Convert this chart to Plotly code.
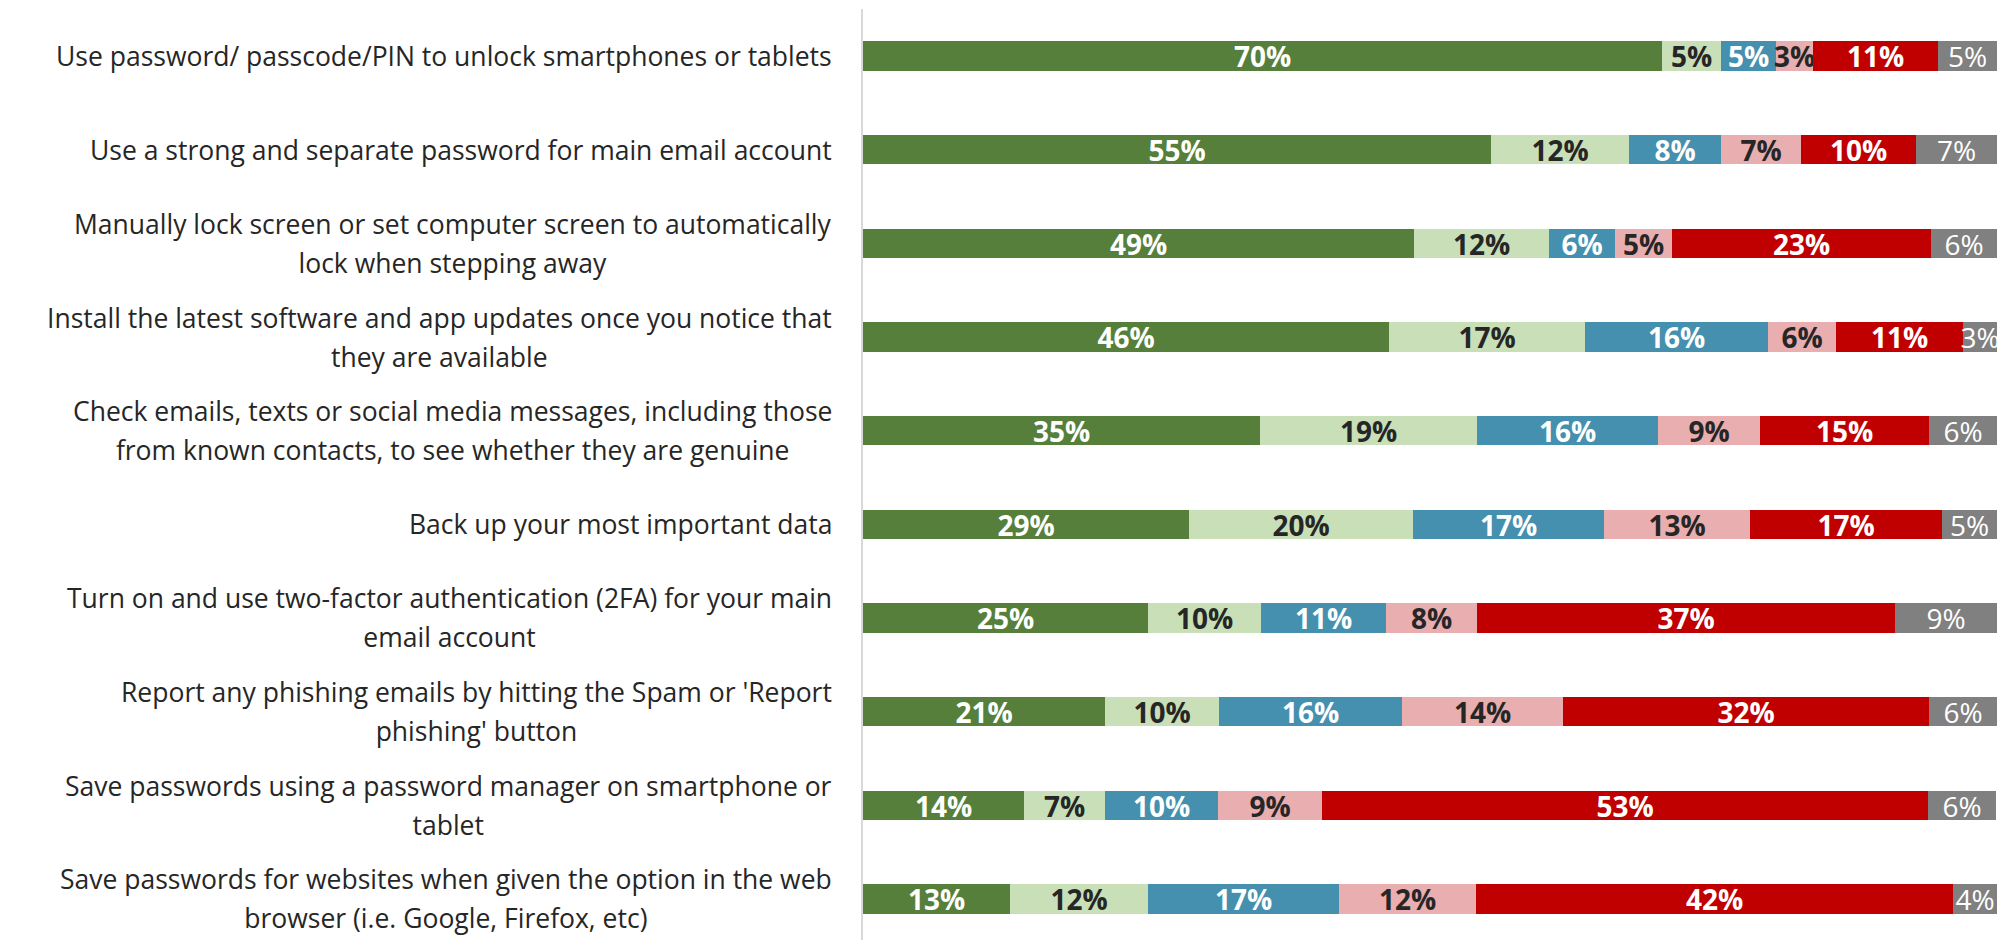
import plotly.graph_objects as go

labels = [
    "Use password/ passcode/PIN to unlock smartphones or tablets",
    "Use a strong and separate password for main email account",
    "Manually lock screen or set computer screen to automatically<br>lock when stepping away",
    "Install the latest software and app updates once you notice that<br>they are available",
    "Check emails, texts or social media messages, including those<br>from known contacts, to see whether they are genuine",
    "Back up your most important data",
    "Turn on and use two-factor authentication (2FA) for your main<br>email account",
    "Report any phishing emails by hitting the Spam or 'Report<br>phishing' button",
    "Save passwords using a password manager on smartphone or<br>tablet",
    "Save passwords for websites when given the option in the web<br>browser (i.e. Google, Firefox, etc)",
]

seg1 = [70.4, 55.4, 48.6, 46.4, 35.0, 28.7, 25.1, 21.3, 14.2, 13.0]
seg2 = [5.2, 12.1, 11.9, 17.2, 19.1, 19.8, 10.0, 10.1, 7.1, 12.1]
seg3 = [4.9, 8.1, 5.8, 16.2, 16.0, 16.8, 11.0, 16.1, 10.0, 16.9]
seg4 = [3.2, 7.1, 5.0, 6.0, 9.0, 12.9, 8.0, 14.2, 9.2, 12.0]
seg5 = [11.1, 10.1, 22.8, 11.2, 14.9, 16.9, 36.9, 32.3, 53.4, 42.1]
seg6 = [5.2, 7.2, 5.9, 3.0, 6.0, 4.9, 9.0, 6.0, 6.0, 3.9]

series = [seg1, seg2, seg3, seg4, seg5, seg6]
colors = ["#557F3A", "#C8DFB8", "#4590AE", "#E9AEB0", "#C00000", "#808080"]
text_colors = ["white", "#262626", "white", "#262626", "white", "white"]
weights = ["bold", "bold", "bold", "bold", "bold", "normal"]

ypos = list(range(len(labels)))

fig = go.Figure()
for vals, c, tc, w in zip(series, colors, text_colors, weights):
    fig.add_trace(go.Bar(
        x=vals, y=ypos, orientation="h",
        marker=dict(color=c, line=dict(width=0)),
        width=0.315,
        text=[f"{round(v):d}%" for v in vals],
        textposition="inside",
        insidetextanchor="middle",
        textangle=0,
        constraintext="none",
        textfont=dict(family="Open Sans", size=28, color=tc, weight=w),
        cliponaxis=False,
        hoverinfo="skip",
    ))

for i, lab in enumerate(labels):
    parts = lab.split("<br>")
    txt = "<br>".join(f"<span style='font-size:26.5px'>{p}</span>" for p in parts)
    fig.add_annotation(
        x=0, xref="paper", xshift=-29, xanchor="right",
        y=i, yref="y", yanchor="middle",
        text=txt, align="center", showarrow=False,
        font=dict(family="Open Sans", size=30, color="#262626"),
    )

fig.update_layout(
    barmode="stack",
    width=2003, height=932,
    margin=dict(l=855, r=13, t=1, b=0),
    paper_bgcolor="white", plot_bgcolor="white",
    showlegend=False,
    bargap=0,
)
fig.update_xaxes(range=[0, 100.05], visible=False, fixedrange=True)
fig.update_yaxes(range=[9.438, -0.502], showticklabels=False, showgrid=False,
                 zeroline=False, showline=True, linecolor="#D9D9D9", linewidth=2,
                 ticks="")

fig.write_html("out.html")
